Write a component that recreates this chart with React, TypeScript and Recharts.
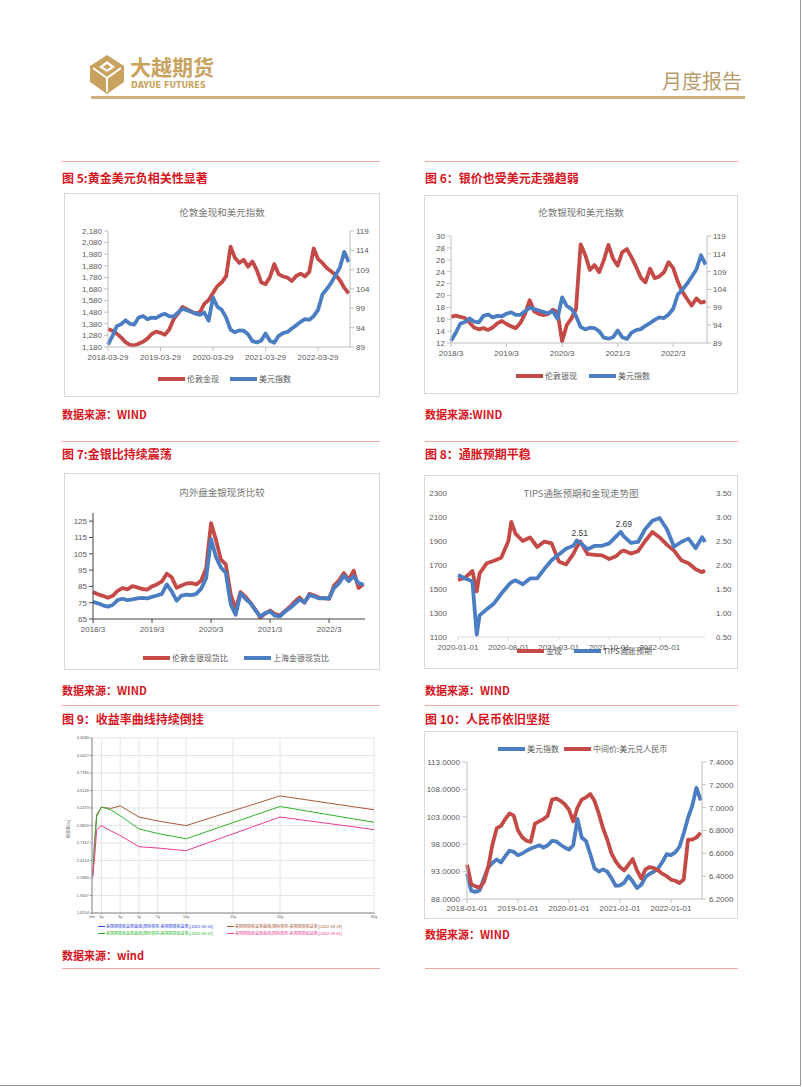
import React from "react";
import { CartesianGrid, Line, LineChart, XAxis, YAxis } from "recharts";

// 图5/图6：伦敦金现、伦敦银现、美元指数（月度，自2018-03-29起）
const spotTickLabels = ["2018-03-29", "2019-03-29", "2020-03-29", "2021-03-29", "2022-03-29"];
const silverTickLabels = ["2018/3", "2019/3", "2020/3", "2021/3", "2022/3"];
const yearTicks = [0, 12, 24, 36, 48];
const londonGold = [
  1335, 1320, 1295, 1262, 1222, 1198, 1193, 1208, 1225, 1252, 1292, 1312,
  1302, 1286, 1330, 1420, 1468, 1525, 1505, 1486, 1468, 1478, 1552, 1585,
  1645, 1705, 1738, 1790, 2045, 1950, 1905, 1932, 1872, 1918, 1842, 1738,
  1722, 1782, 1895, 1808, 1788, 1778, 1748, 1792, 1812, 1788, 1828, 2030,
  1938, 1905, 1862, 1832, 1800, 1755, 1690, 1642,
];
const londonSilver = [
  16.4, 16.6, 16.4, 16.2, 15.4, 14.6, 14.3, 14.5, 14.2, 14.6, 15.3, 15.7,
  15.2, 14.8, 14.5, 15.4, 16.9, 19.2, 17.3, 16.9, 16.7, 16.9, 17.6, 17.2,
  12.3, 15.0, 16.1, 17.7, 28.6, 26.8, 24.3, 25.1, 23.9, 25.9, 28.5, 26.2,
  25.0, 27.3, 27.8, 26.4, 24.8, 23.0, 22.2, 24.5, 22.9, 23.2, 23.9, 25.6,
  24.6, 22.3, 20.6, 19.4, 18.3, 19.5, 18.8, 19.0,
];
const dollarIndex = [
  89.6, 91.8, 94.4, 94.9, 95.9, 95.0, 94.8, 96.6, 97.0, 96.2, 96.6, 96.5,
  97.2, 97.6, 96.9, 96.9, 97.9, 98.9, 98.5, 98.1, 97.7, 97.3, 97.9, 95.8,
  101.8, 99.4, 98.6, 96.6, 93.5, 92.8, 93.3, 93.2, 92.3, 90.5, 90.2, 90.6,
  92.5, 90.6, 90.1, 91.9, 92.6, 92.9, 93.8, 94.6, 95.5, 96.2, 96.0, 97.0,
  98.6, 102.6, 104.0, 105.6, 107.6, 109.6, 113.6, 111.0,
];
const goldAxis = [1180, 1280, 1380, 1480, 1580, 1680, 1780, 1880, 1980, 2080, 2180];
const silverAxis = [12, 14, 16, 18, 20, 22, 24, 26, 28, 30];
const dollarAxis = [89, 94, 99, 104, 109, 114, 119];

// 图7：内外盘金银现货比
const londonRatio = [
  81.5, 80.2, 79.2, 78.0, 79.2, 82.2, 84.0, 83.2, 85.2, 84.4, 83.4, 83.0,
  85.0, 86.2, 88.0, 92.8, 90.6, 84.2, 85.6, 86.8, 87.0, 86.2, 88.6, 96.0,
  123.8, 113.5, 101.5, 98.5, 80.0, 71.0, 81.5, 78.6, 75.0, 70.8, 66.0, 68.2,
  70.2, 68.0, 67.2, 69.8, 72.4, 75.6, 78.2, 75.0, 80.4, 79.4, 78.0, 77.8,
  77.4, 85.5, 88.6, 93.2, 89.0, 94.6, 84.0, 86.4,
];
const shanghaiRatio = [
  75.6, 74.6, 73.4, 72.6, 73.6, 76.6, 77.4, 76.6, 77.0, 77.6, 78.0, 77.6,
  78.6, 79.4, 80.4, 86.2, 82.0, 76.2, 79.4, 80.0, 79.6, 80.4, 83.6, 90.0,
  114.0, 103.0, 96.6, 93.4, 74.0, 67.6, 80.6, 77.4, 74.8, 70.4, 66.6, 68.6,
  69.6, 67.0, 66.6, 69.4, 71.6, 74.2, 77.0, 75.2, 79.6, 78.8, 77.6, 77.8,
  77.6, 84.0, 86.8, 91.6, 88.2, 91.2, 87.0, 86.0,
];
const ratioAxis = [65, 75, 85, 95, 105, 115, 125];

// 图8：TIPS通胀预期和金现（月，自2020-01-01起）
const tipsTickLabels = ["2020-01-01", "2020-08-01", "2021-03-01", "2021-10-01", "2022-05-01"];
const tipsTicks = [0, 7, 14, 21, 28];
const tipsMonths = [
  0, 1, 2, 2.6, 3, 4, 5, 6, 7, 7.4, 8, 9, 10, 11, 12, 13, 14, 15, 16, 16.5,
  17, 18, 19, 20, 21, 22, 22.6, 23, 24, 25, 26, 27, 28, 29, 30, 31, 32, 33, 33.9, 34.3,
];
const tipsGold = [
  1575, 1595, 1650, 1480, 1630, 1715, 1735, 1760, 1900, 2060, 1960, 1900, 1930, 1850, 1895, 1880, 1730, 1705, 1790, 1850,
  1895, 1790, 1785, 1780, 1750, 1775, 1810, 1820, 1795, 1815, 1900, 1975, 1930, 1870, 1820, 1740, 1715, 1665, 1640, 1655,
];
const tipsBreakeven = [
  1.79, 1.72, 1.66, 0.55, 0.95, 1.08, 1.2, 1.4, 1.58, 1.64, 1.68, 1.6, 1.72, 1.72, 1.92, 2.1, 2.22, 2.34, 2.4, 2.51,
  2.46, 2.33, 2.4, 2.4, 2.45, 2.6, 2.69, 2.6, 2.46, 2.48, 2.75, 2.92, 2.98, 2.75, 2.38, 2.48, 2.55, 2.35, 2.58, 2.48,
];
const tipsLabelled = [16.5, 22.6];
const tipsGoldAxis = [1100, 1300, 1500, 1700, 1900, 2100, 2300];
const tipsAxis = [0.5, 1.0, 1.5, 2.0, 2.5, 3.0, 3.5];

// 图9：美国国债收益率曲线
const maturities = [1 / 12, 2 / 12, 3 / 12, 0.5, 1, 2, 3, 5, 7, 10, 20, 30];
const maturityTicks = [0, 1, 3, 5, 7, 10, 15, 20, 30];
const maturityLabels = ["0m", "1y", "3y", "5y", "7y", "10y", "15y", "20y", "30y"];
const yieldAxis = [1.6554, 1.9207, 2.186, 2.4514, 2.7167, 2.982, 3.2473, 3.5126, 3.778, 4.0427, 4.308];
const curve0819 = [2.24, 2.45, 2.7, 3.15, 3.26, 3.24, 3.28, 3.11, 3.05, 2.98, 3.43, 3.22];
const curve0810 = [2.22, 2.4, 2.62, 3.12, 3.26, 3.22, 3.13, 2.93, 2.86, 2.78, 3.27, 3.03];
const curve0801 = [2.2, 2.35, 2.45, 2.92, 2.98, 2.9, 2.83, 2.66, 2.64, 2.6, 3.11, 2.92];
const curveDates = ["2022-08-30", "2022-08-19", "2022-08-10", "2022-08-01"];
const curveColors = ["#2b3fd6", "#a85a3c", "#2cb52c", "#ea3c97"];

// 图10：美元指数与中间价（月，自2018-01-01起）
const cnyTickLabels = ["2018-01-01", "2019-01-01", "2020-01-01", "2021-01-01", "2022-01-01"];
const cnyDollar = [
  92.6, 89.5, 89.3, 89.6, 91.8, 93.8, 94.6, 95.2, 94.7, 95.8, 96.8, 96.6,
  96.0, 96.3, 96.8, 97.2, 97.5, 97.8, 97.4, 97.8, 98.6, 98.5, 97.9, 97.4,
  97.0, 97.8, 102.6, 99.2, 98.6, 96.2, 93.6, 93.0, 93.4, 93.0, 91.8, 90.4,
  90.5, 91.0, 92.2, 91.2, 90.0, 90.6, 92.0, 92.6, 93.0, 93.6, 94.8, 96.2,
  96.0, 96.5, 97.5, 100.0, 102.8, 105.0, 108.3, 106.0,
];
const cnyMid = [
  6.5, 6.33, 6.31, 6.3, 6.35, 6.48, 6.68, 6.82, 6.84, 6.9, 6.95, 6.93,
  6.8, 6.74, 6.71, 6.7, 6.86, 6.88, 6.9, 6.93, 7.07, 7.08, 7.06, 7.03,
  6.98, 6.88, 7.0, 7.07, 7.09, 7.12, 7.06, 6.95, 6.82, 6.72, 6.6, 6.53,
  6.48, 6.45, 6.5, 6.55, 6.45, 6.38, 6.46, 6.48, 6.47, 6.45, 6.42, 6.4,
  6.37, 6.36, 6.34, 6.37, 6.72, 6.72, 6.74, 6.78,
];
const cnyDollarAxis = [88, 93, 98, 103, 108, 113];
const cnyMidAxis = [6.2, 6.4, 6.6, 6.8, 7.0, 7.2, 7.4];

const RED = "#c44a47";
const BLUE = "#4a7dc2";
const GOLD = "#c8a25e";
const TITLE_RED = "#d6151f";
const CJK = '"Noto Sans CJK SC", sans-serif';
const NUM = '"Liberation Sans", Arial, sans-serif';
const tickFont = { fontSize: 8, fill: "#595959", fontFamily: NUM };
const axisGray = "#bfbfbf";

const spotRows = londonGold.map((g, i) => ({ m: i, gold: g, silver: londonSilver[i], usd: dollarIndex[i] }));
const ratioRows = londonRatio.map((v, i) => ({ m: i, london: v, shanghai: shanghaiRatio[i] }));
const tipsRows = tipsMonths.map((t, i) => ({ t, gold: tipsGold[i], be: tipsBreakeven[i] }));
const curveRows = maturities.map((x, i) => ({ x, c19: curve0819[i], c10: curve0810[i], c01: curve0801[i] }));
const cnyRows = cnyDollar.map((v, i) => ({ m: i, usd: v, mid: cnyMid[i] }));

function Label({ x, y, size, color, bold, children, font }: any) {
  return (
    <div
      style={{
        position: "absolute",
        left: x,
        top: y - size / 2,
        fontSize: size,
        lineHeight: `${size}px`,
        color,
        fontWeight: bold ? 700 : 400,
        fontFamily: font || CJK,
        whiteSpace: "nowrap",
      }}
    >
      {children}
    </div>
  );
}

function Frame({ left, top, width, height, children }: any) {
  return (
    <div style={{ position: "absolute", left, top, width, height, outline: "1px solid #d9d9d9" }}>{children}</div>
  );
}

function Caption({ y, children }: any) {
  return (
    <div
      style={{
        position: "absolute",
        left: 0,
        right: 0,
        top: y - 5,
        textAlign: "center",
        fontSize: 9.5,
        lineHeight: "10px",
        color: "#767676",
        fontFamily: CJK,
        zIndex: 2,
      }}
    >
      {children}
    </div>
  );
}

function Legend({ x, y, gap, items }: any) {
  return (
    <div style={{ position: "absolute", left: x, top: y - 5, height: 10, display: "flex", alignItems: "center", gap, zIndex: 2 }}>
      {items.map((it: any) => (
        <div key={it.name} style={{ display: "flex", alignItems: "center" }}>
          <span style={{ display: "inline-block", width: 27, height: 3.5, background: it.color, marginRight: 2 }} />
          <span style={{ fontSize: 8, lineHeight: "10px", color: "#595959", fontFamily: CJK }}>{it.name}</span>
        </div>
      ))}
    </div>
  );
}

function Rule({ x, y, w }: any) {
  return <div style={{ position: "absolute", left: x, top: y, width: w, height: 1, background: "#f2a7a7" }} />;
}

function Logo() {
  return (
    <svg width={36} height={39} style={{ position: "absolute", left: 89, top: 55 }} viewBox="0 0 36 39">
      <polygon points="18,0 35,11 35,27 18,39 1,27 1,11" fill={GOLD} />
      <polyline points="4,13 18,23 32,13" fill="none" stroke="#fff" strokeWidth={2} />
      <polyline points="18,23 18,37" fill="none" stroke="#fff" strokeWidth={2} />
      <polygon points="18,6 26,12 18,17 10,12" fill="#fff" />
      <polygon points="18,9 22,12 18,14.5 14,12" fill={GOLD} />
    </svg>
  );
}

const lineProps = { dot: false, isAnimationActive: false, type: "linear" as const, strokeWidth: 3.8, strokeLinejoin: "round" as const };

function fmtYear(labels: string[]) {
  return (v: number) => labels[yearTicks.indexOf(v)] ?? "";
}

function GoldDollarChart() {
  return (
    <Frame left={65} top={194} width={314} height={202}>
      <Caption y={18}>伦敦金现和美元指数</Caption>
      <LineChart width={314} height={202} data={spotRows} margin={{ top: 37, right: 0, bottom: 29, left: 0 }} style={{ position: "absolute", left: 0, top: 0 }}>
        <XAxis dataKey="m" type="number" domain={[0, 55.3]} ticks={yearTicks} interval={0} tickFormatter={fmtYear(spotTickLabels)} tick={tickFont} stroke={axisGray} tickSize={4} tickMargin={3} height={20} />
        <YAxis yAxisId="l" domain={[1180, 2180]} ticks={goldAxis} interval={0} tickFormatter={(v: number) => v.toLocaleString("en-US")} tick={tickFont} stroke={axisGray} tickSize={4} tickMargin={2} width={43} />
        <YAxis yAxisId="r" orientation="right" domain={[89, 119]} ticks={dollarAxis} interval={0} tick={tickFont} stroke={axisGray} tickSize={4} tickMargin={2} width={29} />
        <Line yAxisId="l" dataKey="gold" stroke={RED} {...lineProps} />
        <Line yAxisId="r" dataKey="usd" stroke={BLUE} {...lineProps} />
      </LineChart>
    </Frame>
  );
}

function SilverDollarChart() {
  return (
    <Frame left={425} top={196} width={312} height={197}>
      <Caption y={16}>伦敦银现和美元指数</Caption>
      <LineChart width={312} height={197} data={spotRows} margin={{ top: 40, right: 0, bottom: 30, left: 0 }} style={{ position: "absolute", left: 0, top: 0 }}>
        <XAxis dataKey="m" type="number" domain={[0, 55.3]} ticks={yearTicks} interval={0} tickFormatter={fmtYear(silverTickLabels)} tick={tickFont} stroke={axisGray} tickSize={4} tickMargin={3} height={20} />
        <YAxis yAxisId="l" domain={[12, 30]} ticks={silverAxis} interval={0} tick={tickFont} stroke={axisGray} tickSize={4} tickMargin={2} width={26} />
        <YAxis yAxisId="r" orientation="right" domain={[89, 119]} ticks={dollarAxis} interval={0} tick={tickFont} stroke={axisGray} tickSize={4} tickMargin={2} width={30} />
        <Line yAxisId="l" dataKey="silver" stroke={RED} {...lineProps} />
        <Line yAxisId="r" dataKey="usd" stroke={BLUE} {...lineProps} />
      </LineChart>
    </Frame>
  );
}

function RatioChart() {
  return (
    <Frame left={65} top={474} width={314} height={195}>
      <Caption y={18}>内外盘金银现货比较</Caption>
      <LineChart width={314} height={195} data={ratioRows} margin={{ top: 39, right: 14, bottom: 30, left: 0 }} style={{ position: "absolute", left: 0, top: 0 }}>
        <XAxis dataKey="m" type="number" domain={[0, 55.3]} ticks={yearTicks} interval={0} tickFormatter={fmtYear(silverTickLabels)} tick={tickFont} stroke="#404040" tickSize={4} tickMargin={3} height={20} />
        <YAxis domain={[65, 130]} ticks={ratioAxis} interval={0} tick={tickFont} stroke="#404040" tickSize={4} tickMargin={2} width={28} />
        <Line dataKey="london" stroke={RED} {...lineProps} />
        <Line dataKey="shanghai" stroke={BLUE} {...lineProps} />
      </LineChart>
    </Frame>
  );
}

function TipsLabel(props: any) {
  const { x, y, index } = props;
  if (!tipsLabelled.includes(tipsMonths[index])) return null;
  return (
    <text x={x + 3} y={y - 5} textAnchor="middle" fontSize={8.5} fill="#404040" fontFamily={NUM}>
      {tipsBreakeven[index].toFixed(2)}
    </text>
  );
}

function TipsChart() {
  return (
    <Frame left={425} top={476} width={312} height={192}>
      <Caption y={17}>TIPS通胀预期和金现走势图</Caption>
      <LineChart width={312} height={192} data={tipsRows} margin={{ top: 17, right: 0, bottom: 11, left: 0 }} style={{ position: "absolute", left: 0, top: 0 }}>
        <XAxis dataKey="t" type="number" domain={[0, 34.3]} ticks={tipsTicks} interval={0} tickFormatter={(v: number) => tipsTickLabels[tipsTicks.indexOf(v)]} tick={tickFont} stroke="#d9d9d9" tickSize={3} tickMargin={4} height={20} />
        <YAxis yAxisId="l" domain={[1100, 2300]} ticks={tipsGoldAxis} interval={0} tick={tickFont} axisLine={false} tickLine={false} tickMargin={5} width={33} />
        <YAxis yAxisId="r" orientation="right" domain={[0.5, 3.5]} ticks={tipsAxis} interval={0} tickFormatter={(v: number) => v.toFixed(2)} tick={tickFont} axisLine={false} tickLine={false} tickMargin={5} width={32} />
        <Line yAxisId="l" dataKey="gold" stroke={RED} {...lineProps} />
        <Line yAxisId="r" dataKey="be" stroke={BLUE} {...lineProps} label={<TipsLabel />} />
      </LineChart>
    </Frame>
  );
}

function CurveChart() {
  const tiny = { fontSize: 4, fill: "#555", fontFamily: NUM };
  const keys = ["c19", "c10", "c01"];
  return (
    <div style={{ position: "absolute", left: 62, top: 728, width: 318, height: 205 }}>
      <LineChart width={318} height={205} data={curveRows} margin={{ top: 10, right: 6, bottom: 8, left: 0 }}>
        <CartesianGrid stroke="#e4e4e4" />
        <XAxis dataKey="x" type="number" domain={[0, 30]} ticks={maturityTicks} interval={0} tickFormatter={(v: number) => maturityLabels[maturityTicks.indexOf(v)]} tick={tiny} stroke="#8a8a8a" tickSize={1} tickMargin={1} height={12} />
        <YAxis domain={[yieldAxis[0], yieldAxis[yieldAxis.length - 1]]} ticks={yieldAxis} interval={0} tickFormatter={(v: number) => v.toFixed(4)} tick={tiny} stroke="#8a8a8a" tickSize={2} tickMargin={1} width={30} />
        {keys.map((k, i) => (
          <Line key={k} dataKey={k} stroke={curveColors[i + 1]} dot={false} isAnimationActive={false} type="linear" strokeWidth={1} />
        ))}
      </LineChart>
      <div style={{ position: "absolute", left: 4, top: 110, fontSize: 4, lineHeight: "4px", color: "#555", fontFamily: CJK, transform: "rotate(-90deg)", transformOrigin: "left top", whiteSpace: "nowrap" }}>
        收益率(%)
      </div>
    </div>
  );
}

function CurveLegend() {
  const spots = [
    [98, 926],
    [227, 926],
    [98, 933],
    [227, 933],
  ];
  return (
    <>
      {curveDates.map((d, i) => (
        <div key={d} style={{ position: "absolute", left: spots[i][0], top: spots[i][1] - 2.5, height: 5, display: "flex", alignItems: "center" }}>
          <span style={{ display: "inline-block", width: 7, height: 1, background: curveColors[i], marginRight: 1 }} />
          <span style={{ fontSize: 4, lineHeight: "5px", color: curveColors[i], fontFamily: CJK, whiteSpace: "nowrap" }}>
            美国国债收益率曲线(国际债券:美国国债收益率)[{d}]
          </span>
        </div>
      ))}
    </>
  );
}

function CnyChart() {
  return (
    <Frame left={425} top={732} width={312} height={186}>
      <LineChart width={312} height={186} data={cnyRows} margin={{ top: 30, right: 0, bottom: 0, left: 0 }} style={{ position: "absolute", left: 0, top: 0 }}>
        <XAxis dataKey="m" type="number" domain={[0, 55.3]} ticks={yearTicks} interval={0} tickFormatter={fmtYear(cnyTickLabels)} tick={tickFont} stroke={axisGray} tickSize={4} tickMargin={2} height={19} />
        <YAxis yAxisId="l" domain={[88, 113]} ticks={cnyDollarAxis} interval={0} tickFormatter={(v: number) => v.toFixed(4)} tick={tickFont} stroke={axisGray} tickSize={4} tickMargin={3} width={42} />
        <YAxis yAxisId="r" orientation="right" domain={[6.2, 7.4]} ticks={cnyMidAxis} interval={0} tickFormatter={(v: number) => v.toFixed(4)} tick={tickFont} stroke={axisGray} tickSize={4} tickMargin={3} width={35} />
        <Line yAxisId="l" dataKey="usd" stroke={BLUE} {...lineProps} />
        <Line yAxisId="r" dataKey="mid" stroke={RED} {...lineProps} />
      </LineChart>
    </Frame>
  );
}

export default function App() {
  return (
    <div style={{ position: "absolute", left: 0, top: 0, width: 802, height: 1087, background: "#fff", overflow: "hidden" }}>
      <Logo />
      <Label x={130} y={66} size={21} color={GOLD} bold>
        大越期货
      </Label>
      <Label x={131} y={85.5} size={9} color={GOLD} bold font='"DejaVu Sans Condensed", sans-serif'>
        DAYUE FUTURES
      </Label>
      <Label x={662} y={81} size={20} color="#b99c6c">
        月度报告
      </Label>
      <div style={{ position: "absolute", left: 91, top: 96, width: 654, height: 3, background: "#cdb27f" }} />

      <Rule x={62} y={161} w={318} />
      <Rule x={425} y={161} w={313} />
      <Label x={62} y={178} size={12} color={TITLE_RED} bold>图 5:黄金美元负相关性显著</Label>
      <Label x={425} y={178} size={12} color={TITLE_RED} bold>图 6：银价也受美元走强趋弱</Label>
      <GoldDollarChart />
      <SilverDollarChart />
      <Legend x={158} y={379} gap={11} items={[{ name: "伦敦金现", color: RED }, { name: "美元指数", color: BLUE }]} />
      <Legend x={516} y={376} gap={12} items={[{ name: "伦敦银现", color: RED }, { name: "美元指数", color: BLUE }]} />
      <Label x={62} y={414} size={11} color={TITLE_RED} bold>数据来源：WIND</Label>
      <Label x={425} y={414} size={11} color={TITLE_RED} bold>数据来源:WIND</Label>

      <Rule x={62} y={441} w={318} />
      <Rule x={425} y={441} w={313} />
      <Label x={62} y={454} size={12} color={TITLE_RED} bold>图 7:金银比持续震荡</Label>
      <Label x={425} y={454} size={12} color={TITLE_RED} bold>图 8：通胀预期平稳</Label>
      <RatioChart />
      <TipsChart />
      <Legend x={143} y={658} gap={16} items={[{ name: "伦敦金银现货比", color: RED }, { name: "上海金银现货比", color: BLUE }]} />
      <Legend x={517} y={651} gap={12} items={[{ name: "金现", color: RED }, { name: "TIPS通胀预期", color: BLUE }]} />
      <Label x={62} y={690} size={11} color={TITLE_RED} bold>数据来源：WIND</Label>
      <Label x={425} y={690} size={11} color={TITLE_RED} bold>数据来源：WIND</Label>

      <Rule x={62} y={705} w={318} />
      <Rule x={425} y={705} w={313} />
      <Label x={62} y={719} size={12} color={TITLE_RED} bold>图 9：收益率曲线持续倒挂</Label>
      <Label x={425} y={719} size={12} color={TITLE_RED} bold>图 10：人民币依旧坚挺</Label>
      <CurveChart />
      <CurveLegend />
      <CnyChart />
      <Legend x={498} y={749} gap={5} items={[{ name: "美元指数", color: BLUE }, { name: "中间价:美元兑人民币", color: RED }]} />
      <Label x={62} y={955} size={11} color={TITLE_RED} bold>数据来源：wind</Label>
      <Label x={425} y={934} size={11} color={TITLE_RED} bold>数据来源：WIND</Label>
      <Rule x={62} y={968} w={318} />
      <Rule x={425} y={968} w={313} />

      <div style={{ position: "absolute", left: 800, top: 0, width: 1, height: 1086, background: "#9a9a9a" }} />
      <div style={{ position: "absolute", left: 0, top: 1085, width: 801, height: 1, background: "#9a9a9a" }} />
    </div>
  );
}
